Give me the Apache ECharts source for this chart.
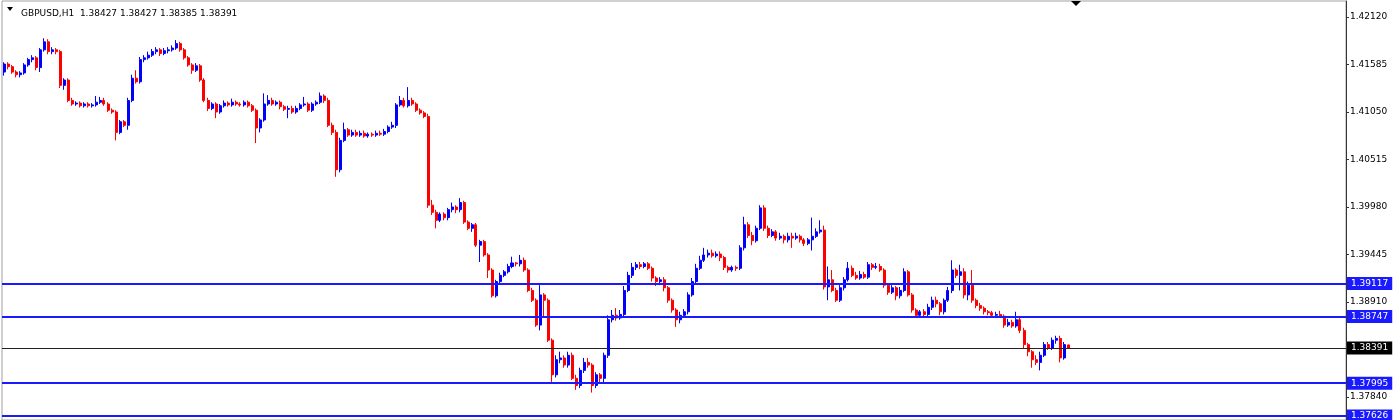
<!DOCTYPE html>
<html>
<head>
<meta charset="utf-8">
<script src="https://cdn.jsdelivr.net/npm/echarts@6/dist/echarts.min.js"></script>
<style>html,body{margin:0;padding:0;background:#fff}#c{width:1400px;height:420px}</style>
</head>
<body>
<div id="c"></div>
<script>
const symbol = 'GBPUSD,H1';
const opens = [
1.4150,1.4159,1.4156,1.4150,1.4147,1.4149,1.4158,1.4164,1.4166,1.4155,
1.4175,1.4184,1.4173,1.4175,1.4173,1.4135,1.4141,1.4118,1.4114,1.4115,
1.4112,1.4114,1.4112,1.4113,1.4116,1.4118,1.4114,1.4107,1.4105,1.4082,
1.4094,1.4090,1.4118,1.4143,1.4139,1.4164,1.4166,1.4169,1.4173,1.4175,
1.4171,1.4174,1.4175,1.4177,1.4182,1.4175,1.4166,1.4158,1.4152,1.4157,
1.4141,1.4118,1.4109,1.4114,1.4105,1.4112,1.4115,1.4113,1.4116,1.4114,
1.4113,1.4116,1.4112,1.4107,1.4087,1.4096,1.4114,1.4118,1.4114,1.4116,
1.4111,1.4108,1.4109,1.4105,1.4109,1.4113,1.4114,1.4107,1.4114,1.4116,
1.4123,1.4118,1.4090,1.4082,1.4040,1.4073,1.4085,1.4079,1.4082,1.4079,
1.4081,1.4078,1.4080,1.4079,1.4081,1.4080,1.4083,1.4088,1.4090,1.4113,
1.4118,1.4112,1.4118,1.4114,1.4107,1.4104,1.4100,1.4000,1.3992,1.3983,
1.3990,1.3986,1.3995,1.3998,1.3995,1.4003,1.3981,1.3974,1.3978,1.3955,
1.3959,1.3944,1.3927,1.3898,1.3914,1.3921,1.3925,1.3931,1.3935,1.3934,
1.3938,1.3927,1.3904,1.3893,1.3865,1.3899,1.3893,1.3848,1.3809,1.3826,
1.3828,1.3820,1.3831,1.3805,1.3797,1.3814,1.3823,1.3820,1.3797,1.3809,
1.3805,1.3831,1.3871,1.3876,1.3873,1.3877,1.3904,1.3921,1.3930,1.3933,
1.3931,1.3934,1.3929,1.3918,1.3914,1.3916,1.3907,1.3893,1.3882,1.3871,
1.3876,1.3880,1.3899,1.3914,1.3929,1.3938,1.3944,1.3946,1.3943,1.3945,
1.3941,1.3930,1.3927,1.3930,1.3929,1.3952,1.3978,1.3966,1.3960,1.3974,
1.3997,1.3974,1.3966,1.3970,1.3963,1.3965,1.3961,1.3965,1.3963,1.3965,
1.3961,1.3957,1.3961,1.3965,1.3970,1.3972,1.3908,1.3916,1.3904,1.3893,
1.3907,1.3916,1.3929,1.3921,1.3918,1.3922,1.3919,1.3933,1.3930,1.3931,
1.3927,1.3910,1.3902,1.3907,1.3898,1.3904,1.3925,1.3899,1.3882,1.3876,
1.3880,1.3877,1.3885,1.3893,1.3889,1.3880,1.3893,1.3904,1.3927,1.3921,
1.3925,1.3899,1.3910,1.3893,1.3887,1.3884,1.3880,1.3879,1.3876,1.3877,
1.3875,1.3865,1.3868,1.3864,1.3871,1.3859,1.3843,1.3835,1.3826,1.3823,
1.3831,1.3843,1.3839,1.3848,1.3850,1.3828,1.38427];
const closes = [
1.4159,1.4156,1.4150,1.4147,1.4149,1.4158,1.4164,1.4166,1.4155,1.4175,
1.4184,1.4173,1.4175,1.4173,1.4135,1.4141,1.4118,1.4114,1.4115,1.4112,
1.4114,1.4112,1.4113,1.4116,1.4118,1.4114,1.4107,1.4105,1.4082,1.4094,
1.4090,1.4118,1.4143,1.4139,1.4164,1.4166,1.4169,1.4173,1.4175,1.4171,
1.4174,1.4175,1.4177,1.4182,1.4175,1.4166,1.4158,1.4152,1.4157,1.4141,
1.4118,1.4109,1.4114,1.4105,1.4112,1.4115,1.4113,1.4116,1.4114,1.4113,
1.4116,1.4112,1.4107,1.4087,1.4096,1.4114,1.4118,1.4114,1.4116,1.4111,
1.4108,1.4109,1.4105,1.4109,1.4113,1.4114,1.4107,1.4114,1.4116,1.4123,
1.4118,1.4090,1.4082,1.4040,1.4073,1.4085,1.4079,1.4082,1.4079,1.4081,
1.4078,1.4080,1.4079,1.4081,1.4080,1.4083,1.4088,1.4090,1.4113,1.4118,
1.4112,1.4118,1.4114,1.4107,1.4104,1.4100,1.4000,1.3992,1.3983,1.3990,
1.3986,1.3995,1.3998,1.3995,1.4003,1.3981,1.3974,1.3978,1.3955,1.3959,
1.3944,1.3927,1.3898,1.3914,1.3921,1.3925,1.3931,1.3935,1.3934,1.3938,
1.3927,1.3904,1.3893,1.3865,1.3899,1.3893,1.3848,1.3809,1.3826,1.3828,
1.3820,1.3831,1.3805,1.3797,1.3814,1.3823,1.3820,1.3797,1.3809,1.3805,
1.3831,1.3871,1.3876,1.3873,1.3877,1.3904,1.3921,1.3930,1.3933,1.3931,
1.3934,1.3929,1.3918,1.3914,1.3916,1.3907,1.3893,1.3882,1.3871,1.3876,
1.3880,1.3899,1.3914,1.3929,1.3938,1.3944,1.3946,1.3943,1.3945,1.3941,
1.3930,1.3927,1.3930,1.3929,1.3952,1.3978,1.3966,1.3960,1.3974,1.3997,
1.3974,1.3966,1.3970,1.3963,1.3965,1.3961,1.3965,1.3963,1.3965,1.3961,
1.3957,1.3961,1.3965,1.3970,1.3972,1.3908,1.3916,1.3904,1.3893,1.3907,
1.3916,1.3929,1.3921,1.3918,1.3922,1.3919,1.3933,1.3930,1.3931,1.3927,
1.3910,1.3902,1.3907,1.3898,1.3904,1.3925,1.3899,1.3882,1.3876,1.3880,
1.3877,1.3885,1.3893,1.3889,1.3880,1.3893,1.3904,1.3927,1.3921,1.3925,
1.3899,1.3910,1.3893,1.3887,1.3884,1.3880,1.3879,1.3876,1.3877,1.3875,
1.3865,1.3868,1.3864,1.3871,1.3859,1.3843,1.3835,1.3826,1.3823,1.3831,
1.3843,1.3839,1.3848,1.3850,1.3828,1.3843,1.38391];
const highs = [
1.4161,1.4161,1.4158,1.4152,1.4151,1.4160,1.4166,1.4169,1.4168,1.4177,
1.4188,1.4187,1.4178,1.4177,1.4175,1.4143,1.4143,1.4121,1.4117,1.4117,
1.4116,1.4116,1.4115,1.4123,1.4122,1.4121,1.4116,1.4109,1.4107,1.4096,
1.4096,1.4121,1.4147,1.4152,1.4167,1.4169,1.4173,1.4176,1.4178,1.4177,
1.4177,1.4178,1.4180,1.4186,1.4184,1.4177,1.4168,1.4160,1.4160,1.4159,
1.4143,1.4121,1.4116,1.4116,1.4114,1.4118,1.4117,1.4120,1.4118,1.4116,
1.4118,1.4118,1.4114,1.4109,1.4098,1.4126,1.4124,1.4121,1.4118,1.4118,
1.4113,1.4112,1.4112,1.4112,1.4115,1.4122,1.4116,1.4116,1.4118,1.4127,
1.4125,1.4121,1.4093,1.4085,1.4076,1.4093,1.4087,1.4085,1.4085,1.4084,
1.4084,1.4082,1.4082,1.4084,1.4084,1.4086,1.4090,1.4094,1.4115,1.4123,
1.4121,1.4133,1.4121,1.4116,1.4109,1.4106,1.4103,1.4006,1.3995,1.3992,
1.3992,1.3997,1.4003,1.4000,1.4008,1.4005,1.3983,1.3980,1.3980,1.3961,
1.3961,1.3946,1.3929,1.3916,1.3924,1.3927,1.3934,1.3942,1.3936,1.3944,
1.3941,1.3929,1.3907,1.3895,1.3910,1.3901,1.3895,1.3850,1.3831,1.3835,
1.3831,1.3835,1.3834,1.3809,1.3817,1.3828,1.3828,1.3822,1.3812,1.3811,
1.3834,1.3876,1.3882,1.3884,1.3882,1.3909,1.3925,1.3935,1.3936,1.3936,
1.3936,1.3936,1.3931,1.3920,1.3919,1.3919,1.3909,1.3895,1.3884,1.3880,
1.3883,1.3902,1.3918,1.3934,1.3943,1.3952,1.3950,1.3950,1.3948,1.3948,
1.3943,1.3932,1.3932,1.3932,1.3955,1.3987,1.3981,1.3970,1.3977,1.4000,
1.4000,1.3977,1.3973,1.3972,1.3969,1.3967,1.3969,1.3969,1.3969,1.3967,
1.3963,1.3963,1.3986,1.3974,1.3983,1.3977,1.3931,1.3927,1.3907,1.3910,
1.3919,1.3936,1.3932,1.3925,1.3926,1.3925,1.3936,1.3935,1.3935,1.3934,
1.3929,1.3912,1.3910,1.3909,1.3908,1.3929,1.3927,1.3901,1.3884,1.3882,
1.3883,1.3889,1.3897,1.3897,1.3891,1.3895,1.3908,1.3938,1.3929,1.3933,
1.3929,1.3914,1.3927,1.3895,1.3890,1.3886,1.3882,1.3881,1.3880,1.3881,
1.3877,1.3872,1.3871,1.3880,1.3873,1.3862,1.3845,1.3837,1.3831,1.3835,
1.3846,1.3846,1.3851,1.3853,1.3853,1.3846,1.38427];
const lows = [
1.4146,1.4153,1.4148,1.4144,1.4144,1.4147,1.4156,1.4161,1.4152,1.4150,
1.4173,1.4170,1.4170,1.4170,1.4132,1.4130,1.4116,1.4112,1.4112,1.4110,
1.4110,1.4110,1.4110,1.4111,1.4114,1.4112,1.4105,1.4103,1.4073,1.4080,
1.4088,1.4085,1.4116,1.4137,1.4137,1.4161,1.4164,1.4167,1.4170,1.4168,
1.4169,1.4171,1.4173,1.4175,1.4173,1.4164,1.4156,1.4148,1.4150,1.4139,
1.4116,1.4106,1.4107,1.4098,1.4103,1.4110,1.4111,1.4111,1.4112,1.4111,
1.4111,1.4110,1.4105,1.4070,1.4082,1.4094,1.4112,1.4112,1.4112,1.4108,
1.4106,1.4098,1.4103,1.4103,1.4107,1.4111,1.4105,1.4105,1.4112,1.4114,
1.4115,1.4088,1.4079,1.4032,1.4037,1.4071,1.4077,1.4077,1.4077,1.4077,
1.4076,1.4076,1.4077,1.4077,1.4078,1.4078,1.4081,1.4086,1.4087,1.4111,
1.4110,1.4110,1.4112,1.4105,1.4102,1.4098,1.3997,1.3989,1.3974,1.3981,
1.3983,1.3983,1.3992,1.3991,1.3992,1.3979,1.3972,1.3970,1.3953,1.3936,
1.3942,1.3918,1.3896,1.3896,1.3911,1.3919,1.3923,1.3929,1.3931,1.3931,
1.3925,1.3902,1.3891,1.3863,1.3859,1.3874,1.3846,1.3801,1.3806,1.3822,
1.3817,1.3817,1.3803,1.3792,1.3794,1.3811,1.3817,1.3789,1.3794,1.3801,
1.3800,1.3828,1.3868,1.3870,1.3871,1.3875,1.3902,1.3918,1.3927,1.3928,
1.3929,1.3927,1.3914,1.3909,1.3910,1.3903,1.3890,1.3879,1.3863,1.3867,
1.3873,1.3877,1.3897,1.3911,1.3927,1.3936,1.3941,1.3941,1.3941,1.3937,
1.3927,1.3924,1.3925,1.3926,1.3927,1.3949,1.3963,1.3955,1.3958,1.3972,
1.3971,1.3963,1.3964,1.3960,1.3961,1.3957,1.3958,1.3952,1.3961,1.3958,
1.3954,1.3955,1.3949,1.3963,1.3968,1.3905,1.3893,1.3902,1.3891,1.3891,
1.3904,1.3914,1.3919,1.3916,1.3916,1.3917,1.3917,1.3927,1.3928,1.3925,
1.3907,1.3899,1.3900,1.3893,1.3895,1.3902,1.3897,1.3879,1.3873,1.3874,
1.3873,1.3875,1.3882,1.3885,1.3876,1.3877,1.3891,1.3901,1.3918,1.3904,
1.3895,1.3893,1.3890,1.3884,1.3881,1.3877,1.3876,1.3874,1.3874,1.3873,
1.3862,1.3863,1.3862,1.3862,1.3856,1.3839,1.3830,1.3817,1.3820,1.3814,
1.3829,1.3837,1.3837,1.3844,1.3823,1.3826,1.38385];
const levelLines = [1.39117, 1.38747, 1.37995, 1.37626];
const priceTicks = [1.42120, 1.41585, 1.41050, 1.40515, 1.39980, 1.39445, 1.38910, 1.37840];
const totalSlots = 336;
const yMin = 1.37581, yMax = 1.42300;

const slots = Array.from({length: totalSlots}, (_, i) => String(i));
const ohlc = opens.map((o, i) => [o, closes[i], lows[i], highs[i]]);
const last = opens.length - 1;
const current = closes[last];
const titleText = symbol + '  ' + [opens[last], highs[last], lows[last], closes[last]].map(v => v.toFixed(5)).join(' ');
const FONT = 'DejaVu Sans';

const lineLabel = (bg) => ({
  show: true, position: 'end', distance: 1,
  formatter: p => Number(p.value).toFixed(5),
  color: '#fff', backgroundColor: bg, fontFamily: FONT, fontSize: 9,
  padding: [2, 4, 1, 4], lineHeight: 10
});
const markData = levelLines.map(v => ({
  yAxis: v,
  lineStyle: { color: '#1a1aff', width: 2, type: 'solid' },
  label: lineLabel('#1a1aff')
}));
markData.push({
  yAxis: current,
  lineStyle: { color: '#222', width: 1, type: 'solid' },
  label: lineLabel('#000')
});

const chart = echarts.init(document.getElementById('c'), null, { renderer: 'canvas' });
chart.setOption({
  animation: false,
  backgroundColor: '#fff',
  title: {
    text: titleText, left: 16, top: 4,
    textStyle: { fontFamily: FONT, fontSize: 9, fontWeight: 'normal', color: '#000' }
  },
  graphic: [
    { type: 'polygon', shape: { points: [[7, 7], [13, 7], [10, 11]] }, style: { fill: '#000' } },
    { type: 'polygon', shape: { points: [[1071, 1], [1081, 1], [1076, 6]] }, style: { fill: '#000' } }
  ],
  grid: { left: 2, right: 54, top: 1, bottom: 0, show: true, borderColor: '#a0a0a0', borderWidth: 1 },
  xAxis: {
    type: 'category', data: slots, boundaryGap: true,
    axisLine: { show: false }, axisTick: { show: false }, axisLabel: { show: false }, splitLine: { show: false }
  },
  yAxis: {
    type: 'value', position: 'right', min: yMin, max: yMax, scale: true,
    axisLine: { show: true, lineStyle: { color: '#333', width: 1 } },
    axisTick: { show: true, length: 3, lineStyle: { color: '#333' }, customValues: priceTicks },
    axisLabel: {
      show: true, margin: 4, customValues: priceTicks,
      formatter: v => Number(v).toFixed(5),
      fontFamily: FONT, fontSize: 9, color: '#000'
    },
    splitLine: { show: false }
  },
  series: [{
    type: 'candlestick',
    data: ohlc,
    barWidth: 2.5,
    clip: false,
    itemStyle: {
      color: '#0000ff', color0: '#ff0000',
      borderColor: '#0000ff', borderColor0: '#ff0000', borderWidth: 1
    },
    markLine: {
      symbol: ['none', 'none'], silent: true, animation: false, precision: 5,
      data: markData
    }
  }]
});
</script>
</body>
</html>
